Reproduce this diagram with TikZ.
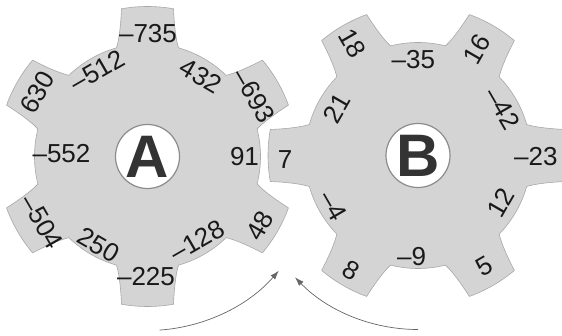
\documentclass[tikz,border=0pt]{standalone}
\usepackage{fontspec}
\setmainfont{Liberation Sans}
\usetikzlibrary{arrows.meta,calc}
\definecolor{gearfill}{HTML}{D4D4D4}
\definecolor{gearline}{HTML}{A8A8A8}
\definecolor{hubline}{HTML}{8C8C8C}
\definecolor{hubtext}{HTML}{333333}
\definecolor{arrowgray}{HTML}{666666}
\tikzset{
  gear/.style={fill=gearfill, draw=gearline, line width=0.6pt, line join=round},
  hub/.style={circle, fill=white, draw=hubline, line width=1.2pt, minimum size=64pt, inner sep=0pt,
              font=\fontsize{60}{60}\selectfont\bfseries, text=hubtext},
  num/.style={inner sep=0pt, font=\fontsize{26}{26}\selectfont, text=black!90},
  turn/.style={draw=arrowgray, line width=0.7pt, -{Latex[length=9pt,width=6pt]}},
}
% one gear outline: six teeth, the first one pointing at angle #1
\newcommand{\gearpath}[1]{%
  (#1-15.92:113)
  \foreach \t in {#1, #1+60, #1+120, #1+180, #1+240, #1+300} {
    .. controls ({\t-13.35}:121.3) and ({\t-11.1}:137.6) .. ({\t-9.98}:150)
    arc[start angle={\t-9.98}, end angle={\t+9.98}, radius=150]
    .. controls ({\t+11.1}:137.6) and ({\t+13.35}:121.3) .. ({\t+15.92}:113)
    arc[start angle={\t+15.92}, end angle={\t+44.08}, radius=113]
  } -- cycle}
\begin{document}
\begin{tikzpicture}[x=1pt, y=1pt]
\useasboundingbox (0,0) rectangle (562,335);
\clip (0,0) rectangle (562,335);

% gear A
\begin{scope}[shift={(147.5,178.5)}]
  \path[gear] \gearpath{30};
\end{scope}
\node[hub] (hubA) at (147.5,178.5) {A};

% gear B
\begin{scope}[shift={(418,179.5)}]
  \path[gear] \gearpath{0};
\end{scope}
\node[hub] (hubB) at (418,179.5) {B};

% numbers on gear A
\node[num]             (a1)  at (148,301)     {–735};
\node[num, rotate=-30] (a2)  at (201,259)     {432};
\node[num, rotate=-60] (a3)  at (254,239)     {–693};
\node[num]             (a4)  at (244.5,178)   {91};
\node[num, rotate=60]  (a5)  at (260,109)     {48};
\node[num, rotate=30]  (a6)  at (197.5,94.5)  {–128};
\node[num]             (a7)  at (146,58)      {–225};
\node[num, rotate=-30] (a8)  at (98.5,90)     {250};
\node[num, rotate=-60] (a9)  at (42,113)      {–504};
\node[num]             (a10) at (61.5,181)    {–552};
\node[num, rotate=60]  (a11) at (37.5,242.5)  {630};
\node[num, rotate=30]  (a12) at (97.5,264.5)  {–512};

% numbers on gear B
\node[num, rotate=-60] (b1)  at (352.5,291.7) {18};
\node[num]             (b2)  at (413.3,275.8) {–35};
\node[num, rotate=60]  (b3)  at (476.7,285.8) {16};
\node[num, rotate=60]  (b4)  at (336.7,226.7) {21};
\node[num, rotate=-60] (b5)  at (502.5,226.7) {–42};
\node[num]             (b6)  at (535.8,178.3) {–23};
\node[num]             (b7)  at (285,175)     {7};
\node[num, rotate=60]  (b8)  at (500.8,132.5) {12};
\node[num, rotate=-60] (b9)  at (333.3,129.2) {–4};
\node[num]             (b10) at (411.7,78.3)  {–9};
\node[num, rotate=-30] (b11) at (350.8,65)    {8};
\node[num, rotate=30]  (b12) at (484.2,69.2)  {5};

% turning arrows, each an arc round its gear's axle
\coordinate (startA) at ($(147.5,178.5)+(-86:174)$);
\coordinate (startB) at ($(418,179.5)+(-90:174)$);
\draw[turn] (startA) arc[start angle=-86, end angle=-41, radius=174];
\draw[turn] (startB) arc[start angle=-90, end angle=-136, radius=171];
\end{tikzpicture}
\end{document}
